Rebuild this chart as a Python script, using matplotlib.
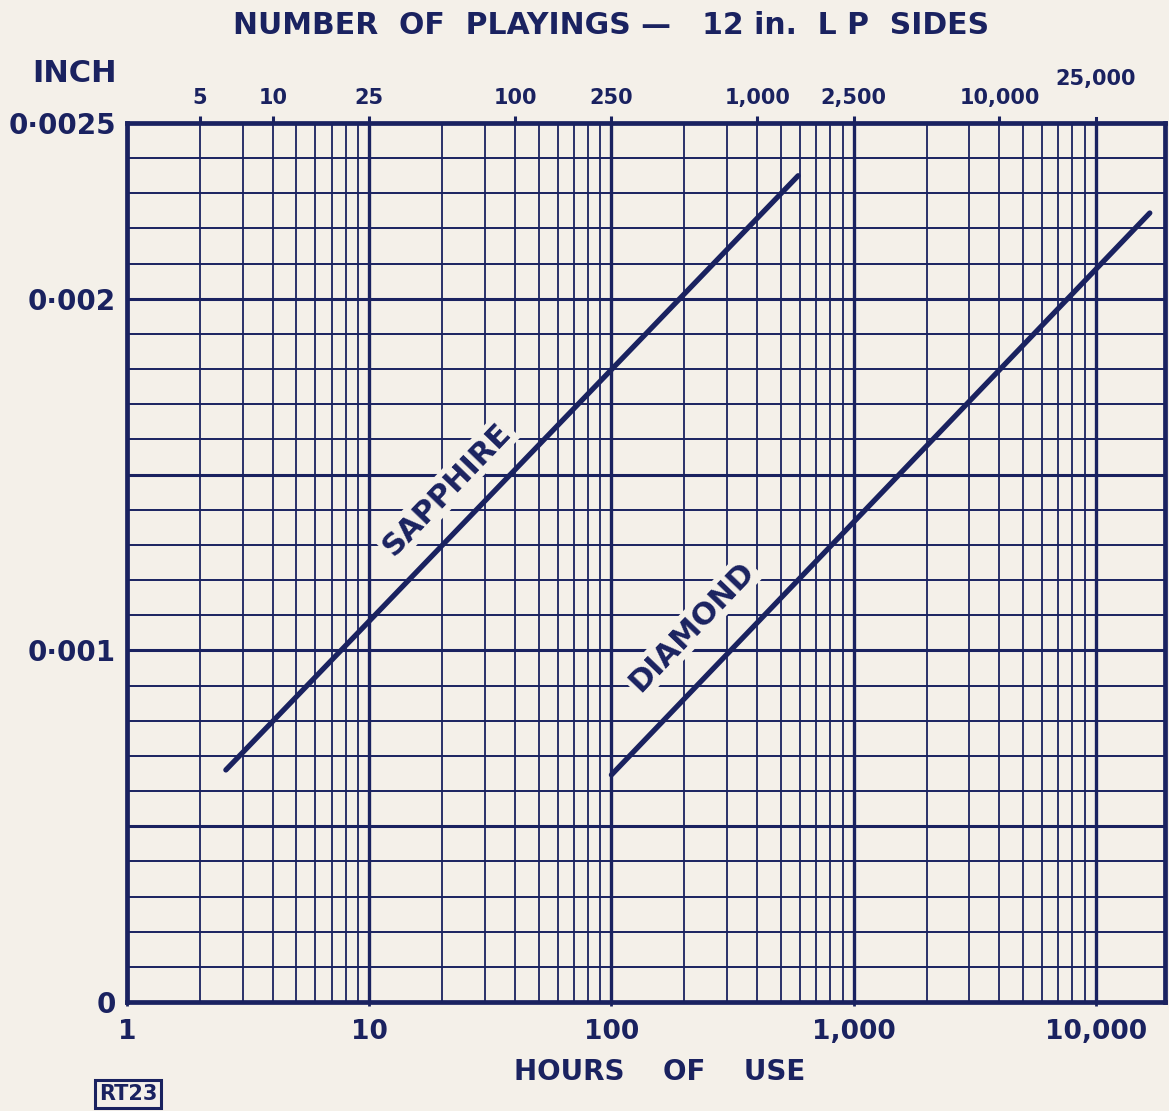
import numpy as np
import matplotlib
matplotlib.use("Agg")
import matplotlib.pyplot as plt

# Dane: zużycie igły (cale) w funkcji godzin użycia
sapphire_hours = [2.56, 590]
sapphire_wear = [0.00066, 0.00235]
diamond_hours = [100, 16700]
diamond_wear = [0.000646, 0.002244]

# Opisy osi
bottom_ticks = [1, 10, 100, 1000, 10000]
bottom_labels = ["1", "10", "100", "1,000", "10,000"]
top_ticks = [5, 10, 25, 100, 250, 1000, 2500, 10000]
top_labels = ["5", "10", "25", "100", "250", "1,000", "2,500", "10,000"]
top_extra_tick = 25000
top_extra_label = "25,000"
left_ticks = [0, 0.001, 0.002, 0.0025]
left_labels = ["0", "0\u00b7001", "0\u00b7002", "0\u00b70025"]
plays_per_hour = 2.5

ink = "#1a2260"
paper = "#f4f0e9"

plt.rcParams["font.family"] = ["DejaVu Sans"]
plt.rcParams["font.weight"] = "bold"

fig = plt.figure(figsize=(11.69, 11.11), dpi=100, facecolor=paper)
ax = fig.add_axes([127 / 1169, 1 - 1002 / 1111, (1165 - 127) / 1169, (1002 - 123) / 1111])
ax.set_facecolor(paper)
ax.set_xscale("log")
ax.set_xlim(1, 19300)
ax.set_ylim(0, 0.0025)

# Siatka pionowa (logarytmiczna)
for dec in [1, 10, 100, 1000, 10000]:
    for k in range(1, 10):
        v = dec * k
        if v >= 19300:
            continue
        lw = 2.4 if k == 1 else 1.3
        ax.axvline(v, color=ink, lw=lw, zorder=1)

# Siatka pozioma co 0.0001
for i in range(1, 25):
    v = i * 0.0001
    lw = 2.2 if i % 5 == 0 else 1.4
    ax.axhline(v, color=ink, lw=lw, zorder=1)

for s in ax.spines.values():
    s.set_linewidth(3.4)
    s.set_color(ink)

ax.set_xticks(bottom_ticks)
ax.set_xticklabels(bottom_labels)
ax.xaxis.set_minor_locator(matplotlib.ticker.NullLocator())
ax.set_yticks(left_ticks)
ax.set_yticklabels(left_labels)
ax.tick_params(axis="x", length=3, width=2, color=ink, pad=9, labelsize=19, labelcolor=ink)
ax.tick_params(axis="y", length=0, pad=8, labelsize=20, labelcolor=ink)

# Górna oś: liczba odtworzeń
top = ax.secondary_xaxis("top", functions=(lambda h: h * plays_per_hour, lambda p: p / plays_per_hour))
top.set_xticks(top_ticks)
top.set_xticklabels(top_labels)
top.xaxis.set_minor_locator(matplotlib.ticker.NullLocator())
top.tick_params(axis="x", length=5, width=2.2, color=ink, pad=6, labelsize=15, labelcolor=ink)
top.spines["top"].set_visible(False)
ax.text(top_extra_tick / plays_per_hour, 1.05, top_extra_label, transform=ax.get_xaxis_transform(),
        ha="center", va="center", fontsize=15, color=ink)
ax.plot([top_extra_tick / plays_per_hour] * 2, [1.0, 1.006], transform=ax.get_xaxis_transform(),
        color=ink, lw=2.2, clip_on=False)

# Linie zużycia
ax.plot(sapphire_hours, sapphire_wear, color=ink, lw=3.8, solid_capstyle="round", zorder=3)
ax.plot(diamond_hours, diamond_wear, color=ink, lw=3.8, solid_capstyle="round", zorder=3)

def line_angle(xs, ys):
    p = ax.transData.transform(list(zip(xs, ys)))
    return np.degrees(np.arctan2(p[1][1] - p[0][1], p[1][0] - p[0][0]))

ax.text(20.9, 0.001459, "SAPPHIRE", rotation=line_angle(sapphire_hours, sapphire_wear),
        rotation_mode="anchor", ha="center", va="center", fontsize=22, color=ink, zorder=4,
        bbox=dict(facecolor=paper, edgecolor="none", pad=2))
ax.text(215, 0.001067, "DIAMOND", rotation=line_angle(diamond_hours, diamond_wear),
        rotation_mode="anchor", ha="center", va="center", fontsize=22, color=ink, zorder=4,
        bbox=dict(facecolor=paper, edgecolor="none", pad=2))

# Opisy
fig.text(611 / 1169, 1 - 25 / 1111, "NUMBER  OF  PLAYINGS \u2014   12 in.  L P  SIDES",
         ha="center", va="center", fontsize=21.5, color=ink)
fig.text(117 / 1169, 1 - 73 / 1111, "INCH", ha="right", va="center", fontsize=22, color=ink)
fig.text(660 / 1169, 1 - 1072 / 1111, "HOURS    OF    USE", ha="center", va="center", fontsize=20, color=ink)
fig.text(128 / 1169, 1 - 1094 / 1111, "RT23", ha="center", va="center", fontsize=15, color=ink,
         bbox=dict(facecolor=paper, edgecolor=ink, lw=2.2, pad=2.5))

fig.savefig("out.png", dpi=100, facecolor=paper)
